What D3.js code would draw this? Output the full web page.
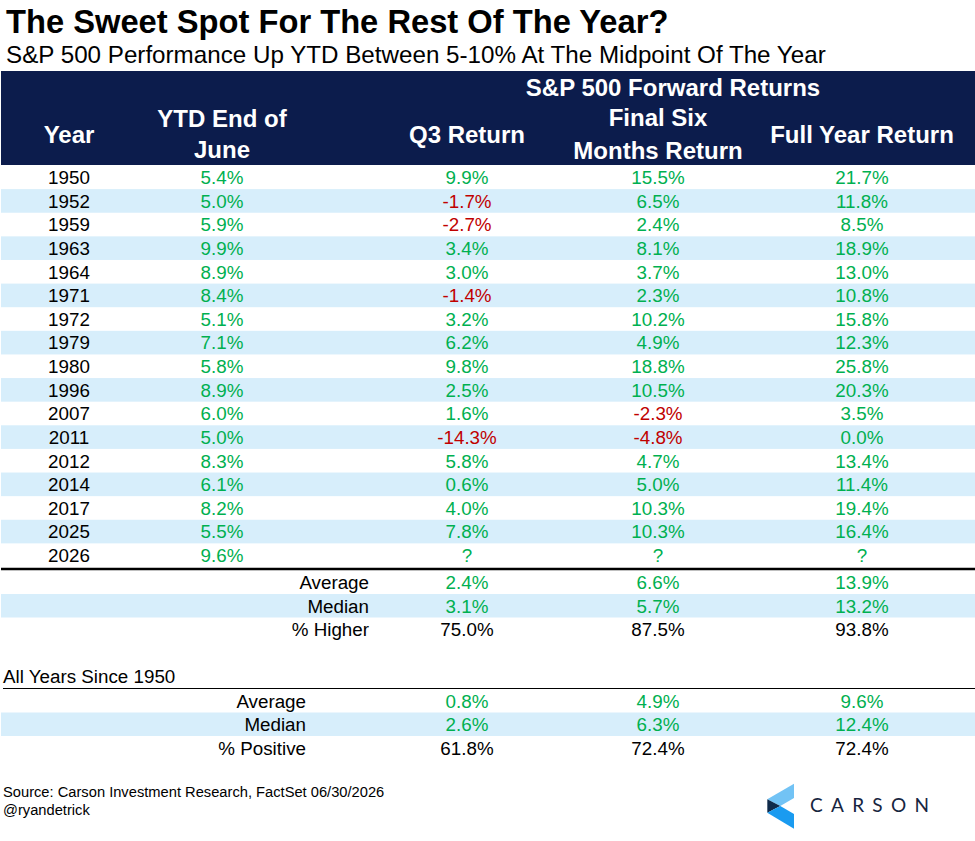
<!DOCTYPE html>
<html><head><meta charset="utf-8">
<script src="https://cdn.jsdelivr.net/npm/d3@7"></script>
<style>
html,body{margin:0;padding:0;background:#fff;}
svg{display:block;font-family:"Liberation Sans",Arial,sans-serif;}
</style></head><body>
<svg id="c" width="975" height="841"></svg>
<script>
// ---- data ----
const years = ["1950","1952","1959","1963","1964","1971","1972","1979","1980","1996","2007","2011","2012","2014","2017","2025","2026"];
const ytdJune = [5.4,5.0,5.9,9.9,8.9,8.4,5.1,7.1,5.8,8.9,6.0,5.0,8.3,6.1,8.2,5.5,9.6];
const q3Return = [9.9,-1.7,-2.7,3.4,3.0,-1.4,3.2,6.2,9.8,2.5,1.6,-14.3,5.8,0.6,4.0,7.8,null];
const sixMonthReturn = [15.5,6.5,2.4,8.1,3.7,2.3,10.2,4.9,18.8,10.5,-2.3,-4.8,4.7,5.0,10.3,10.3,null];
const fullYearReturn = [21.7,11.8,8.5,18.9,13.0,10.8,15.8,12.3,25.8,20.3,3.5,0.0,13.4,11.4,19.4,16.4,null];

const summaryLabels = ["Average","Median","% Higher"];
const summaryQ3 = [2.4,3.1,75.0];
const summarySix = [6.6,5.7,87.5];
const summaryFull = [13.9,13.2,93.8];

const allLabels = ["Average","Median","% Positive"];
const allQ3 = [0.8,2.6,61.8];
const allSix = [4.9,6.3,72.4];
const allFull = [9.6,12.4,72.4];

const GREEN="#00b050", RED="#c00000", NAVY="#0c1c4c", BAND="#d7eefb";
const W=975, FS=18.8;
const svg=d3.select("#c");

// column centre scale
const colKeys=["year","ytd","q3","six","full"];
const xCol=d3.scaleOrdinal().domain(colKeys).range([69,222,467,658,862]);

// title
svg.append("text").attr("x",6).attr("y",33).attr("font-size",32.7).attr("font-weight","bold").attr("fill","#000")
  .text("The Sweet Spot For The Rest Of The Year?");
svg.append("text").attr("x",6).attr("y",63).attr("font-size",24.2).attr("fill","#000")
  .text("S&P 500 Performance Up YTD Between 5-10% At The Midpoint Of The Year");

// header
svg.append("rect").attr("x",1).attr("y",71).attr("width",W-1).attr("height",94).attr("fill",NAVY);
const hdr=svg.append("g").attr("fill","#fff").attr("font-weight","bold").attr("font-size",24).attr("text-anchor","middle");
hdr.append("text").attr("x",673).attr("y",96).text("S&P 500 Forward Returns");
hdr.append("text").attr("x",xCol("year")).attr("y",142.7).text("Year");
hdr.append("text").attr("x",xCol("ytd")).attr("y",126.7).text("YTD End of");
hdr.append("text").attr("x",xCol("ytd")).attr("y",158).text("June");
hdr.append("text").attr("x",xCol("q3")).attr("y",142.7).text("Q3 Return");
hdr.append("text").attr("x",xCol("six")).attr("y",125.7).text("Final Six");
hdr.append("text").attr("x",xCol("six")).attr("y",159).text("Months Return");
hdr.append("text").attr("x",xCol("full")).attr("y",142.7).text("Full Year Return");

const fmt=v=>v==null?"?":v.toFixed(1)+"%";
const clr=v=>v==null?GREEN:(v<0?RED:GREEN);

// body rows
const yRow=d3.scaleBand().domain(years).range([165.5,567]);
const rows=svg.append("g").attr("font-size",FS).attr("text-anchor","middle");
years.forEach((yr,i)=>{
  const y0=yRow(yr), h=yRow.bandwidth(), base=y0+h/2+6.8;
  if(i%2===1) rows.append("rect").attr("x",1).attr("y",y0).attr("width",W-1).attr("height",h).attr("fill",BAND);
  rows.append("text").attr("x",xCol("year")).attr("y",base).attr("fill","#000").text(yr);
  rows.append("text").attr("x",xCol("ytd")).attr("y",base).attr("fill",clr(ytdJune[i])).text(fmt(ytdJune[i]));
  rows.append("text").attr("x",xCol("q3")).attr("y",base).attr("fill",clr(q3Return[i])).text(fmt(q3Return[i]));
  rows.append("text").attr("x",xCol("six")).attr("y",base).attr("fill",clr(sixMonthReturn[i])).text(fmt(sixMonthReturn[i]));
  rows.append("text").attr("x",xCol("full")).attr("y",base).attr("fill",clr(fullYearReturn[i])).text(fmt(fullYearReturn[i]));
});
svg.append("line").attr("x1",1).attr("x2",W).attr("y1",569).attr("y2",569).attr("stroke","#000").attr("stroke-width",2.5);

function block(labels,a,b,c,top,labelX){
  const ys=d3.scaleBand().domain(labels).range([top,top+3*23.5]);
  const g=svg.append("g").attr("font-size",FS);
  labels.forEach((lab,i)=>{
    const y0=ys(lab),h=ys.bandwidth(),base=y0+h/2+6.8;
    const last=i===2;
    if(i===1) g.append("rect").attr("x",1).attr("y",y0).attr("width",W-1).attr("height",h).attr("fill",BAND);
    g.append("text").attr("x",labelX).attr("y",base).attr("text-anchor","end").attr("fill","#000").text(lab);
    [["q3",a[i]],["six",b[i]],["full",c[i]]].forEach(([k,v])=>{
      g.append("text").attr("x",xCol(k)).attr("y",base).attr("text-anchor","middle")
        .attr("fill",last?"#000":clr(v)).text(fmt(v));
    });
  });
}
block(summaryLabels,summaryQ3,summarySix,summaryFull,570.5,369);

svg.append("text").attr("x",3).attr("y",683.3).attr("font-size",FS).attr("fill","#000").text("All Years Since 1950");
svg.append("line").attr("x1",3).attr("x2",W).attr("y1",688.5).attr("y2",688.5).attr("stroke","#000").attr("stroke-width",1);
block(allLabels,allQ3,allSix,allFull,689,306);

// footer
svg.append("text").attr("x",3).attr("y",796.5).attr("font-size",14.7).attr("fill","#000")
  .text("Source: Carson Investment Research, FactSet 06/30/2026");
svg.append("text").attr("x",3).attr("y",815).attr("font-size",14.7).attr("fill","#000").text("@ryandetrick");

// logo
const logo=svg.append("g");
logo.append("polygon").attr("points","767.3,799.3 794,783.7 794,798 780.3,806").attr("fill","#72c3f5");
logo.append("polygon").attr("points","767.3,799.3 780.3,806 767.3,812.7").attr("fill","#0f2a4a");
logo.append("polygon").attr("points","767.3,812.7 780.3,806 794,814 794,828.7").attr("fill","#1a9bf0");
logo.append("text").attr("x",810).attr("y",812).attr("font-family","Lato, 'Open Sans', sans-serif")
  .attr("font-size",19).attr("letter-spacing",8.3).attr("fill","#17253f").text("CARSON");
</script>
</body></html>
